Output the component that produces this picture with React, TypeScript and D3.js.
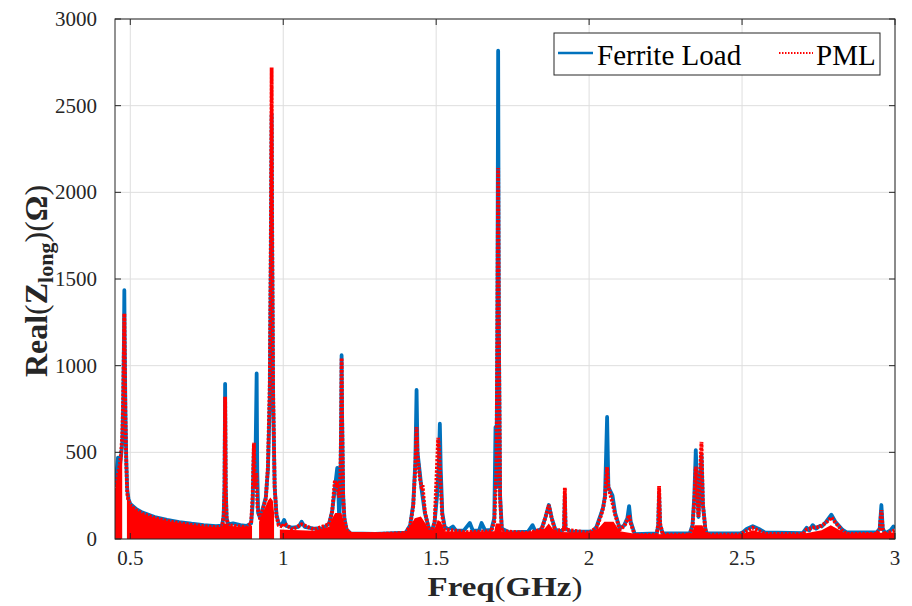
import React from "react";
import * as d3 from "d3";

// ---------- data ----------
const xTicks = [0.5, 1, 1.5, 2, 2.5, 3];
const yTicks = [0, 500, 1000, 1500, 2000, 2500, 3000];
const seriesNames = ["Ferrite Load", "PML"];

// Ferrite Load: [freq GHz, Real(Z) Ohm]
const ferrite: [number, number][] = [
  [0.450, 300], [0.455, 380], [0.4598, 470], [0.462, 380], [0.466, 420], [0.470, 480], [0.474, 560],
  [0.477, 800], [0.4795, 1200], [0.4805, 1435], [0.4815, 1200], [0.484, 750], [0.487, 450], [0.490, 285],
  [0.494, 232], [0.50, 203], [0.52, 172], [0.54, 152], [0.58, 127], [0.62, 110], [0.66, 98], [0.70, 88],
  [0.74, 80], [0.78, 74], [0.80, 77], [0.805, 130], [0.808, 300], [0.8100, 895], [0.812, 300], [0.815, 120],
  [0.82, 85], [0.836, 90], [0.86, 80], [0.88, 76], [0.895, 90], [0.900, 200], [0.9042, 540], [0.908, 300],
  [0.9131, 955], [0.915, 400], [0.918, 150], [0.925, 120], [0.932, 170], [0.937, 200], [0.943, 240],
  [0.950, 400], [0.956, 800], [0.960, 1700], [0.9621, 2450], [0.9635, 1700], [0.967, 800], [0.972, 300],
  [0.978, 140], [0.985, 90], [0.995, 80], [1.003, 110], [1.01, 75], [1.03, 65], [1.05, 70], [1.060, 100],
  [1.07, 70], [1.10, 60], [1.13, 62], [1.15, 90], [1.16, 160], [1.168, 280], [1.1765, 410], [1.180, 300],
  [1.183, 100], [1.187, 300], [1.1895, 700], [1.1908, 1060], [1.1925, 700], [1.196, 250], [1.200, 120],
  [1.207, 55], [1.22, 32], [1.30, 30], [1.40, 36], [1.415, 80], [1.425, 200], [1.432, 450], [1.4359, 860],
  [1.439, 500], [1.4467, 380], [1.452, 290], [1.463, 150], [1.475, 70], [1.485, 40], [1.495, 100],
  [1.503, 250], [1.509, 450], [1.512, 665], [1.515, 400], [1.52, 150], [1.528, 70], [1.54, 55],
  [1.5546, 72], [1.565, 48], [1.59, 48], [1.610, 92], [1.62, 48], [1.64, 48], [1.6484, 92], [1.66, 50],
  [1.68, 52], [1.69, 120], [1.694, 646], [1.697, 300], [1.700, 1200], [1.7026, 2817], [1.705, 1200],
  [1.709, 250], [1.7147, 60], [1.74, 38], [1.80, 42], [1.815, 80], [1.825, 42], [1.845, 60], [1.858, 130],
  [1.8683, 196], [1.878, 120], [1.89, 52], [1.91, 45], [1.918, 60], [1.9206, 250], [1.923, 60], [1.94, 42],
  [2.0, 42], [2.012, 45], [2.024, 70], [2.04, 150], [2.046, 185], [2.052, 250], [2.0588, 704], [2.063, 300],
  [2.0765, 250], [2.085, 150], [2.1003, 60], [2.115, 80], [2.125, 120], [2.1307, 190], [2.136, 100],
  [2.1493, 28], [2.2212, 32], [2.226, 80], [2.2288, 260], [2.232, 80], [2.2408, 32], [2.329, 32],
  [2.338, 80], [2.344, 250], [2.3487, 513], [2.3575, 127], [2.3673, 485], [2.372, 200], [2.38, 60],
  [2.3846, 32], [2.4925, 32], [2.5023, 38], [2.515, 58], [2.535, 74], [2.555, 58], [2.5742, 38],
  [2.6984, 34], [2.7114, 65], [2.72, 50], [2.731, 80], [2.742, 60], [2.7539, 75], [2.7605, 72], [2.775, 100],
  [2.792, 140], [2.805, 100], [2.829, 52], [2.842, 38], [2.94, 38], [2.950, 60], [2.9555, 196], [2.960, 60],
  [2.968, 32], [2.985, 50], [2.995, 72], [3.0, 62],
];

// PML: [freq GHz, Real(Z) Ohm]
const pml: [number, number][] = [
  [0.450, 280], [0.455, 330], [0.460, 380], [0.466, 430], [0.470, 500], [0.474, 600], [0.477, 850],
  [0.4795, 1150], [0.4805, 1300], [0.4815, 1100], [0.484, 700], [0.487, 430], [0.490, 262], [0.494, 222],
  [0.50, 196], [0.52, 166], [0.54, 146], [0.58, 121], [0.62, 104], [0.66, 92], [0.70, 82], [0.74, 74],
  [0.78, 68], [0.80, 72], [0.805, 125], [0.808, 280], [0.8100, 820], [0.812, 280], [0.815, 115], [0.82, 80],
  [0.86, 72], [0.88, 68], [0.895, 90], [0.900, 250], [0.9042, 555], [0.907, 300], [0.912, 380],
  [0.916, 180], [0.925, 110], [0.932, 160], [0.937, 195], [0.943, 230], [0.950, 420], [0.956, 900],
  [0.960, 1900], [0.9621, 2720], [0.9635, 1900], [0.967, 850], [0.972, 300], [0.978, 130], [0.985, 80],
  [1.0, 70], [1.003, 90], [1.03, 55], [1.060, 85], [1.10, 55], [1.15, 85], [1.16, 160], [1.169, 340],
  [1.174, 300], [1.1765, 330], [1.180, 260], [1.183, 240], [1.187, 380], [1.1895, 700], [1.1908, 1044],
  [1.1925, 700], [1.196, 240], [1.200, 110], [1.207, 55], [1.22, 30], [1.30, 28], [1.40, 35],
  [1.415, 75], [1.425, 190], [1.432, 420], [1.4359, 646], [1.439, 480], [1.4467, 350], [1.452, 300],
  [1.456, 300], [1.463, 160], [1.475, 60], [1.485, 35], [1.495, 100], [1.5065, 583], [1.510, 500],
  [1.515, 300], [1.52, 130], [1.528, 55], [1.60, 40], [1.68, 45], [1.69, 100], [1.697, 400], [1.700, 1200],
  [1.7026, 2140], [1.705, 1200], [1.709, 230], [1.7147, 45], [1.80, 35], [1.845, 55], [1.858, 130],
  [1.8683, 196], [1.878, 115], [1.89, 45], [1.918, 55], [1.9206, 295], [1.923, 55], [2.0, 35], [2.024, 65],
  [2.04, 140], [2.046, 180], [2.052, 240], [2.0588, 415], [2.063, 300], [2.0765, 207], [2.085, 140],
  [2.1003, 55], [2.115, 75], [2.125, 110], [2.1307, 138], [2.136, 90], [2.1493, 22], [2.2212, 25],
  [2.226, 90], [2.2288, 306], [2.232, 90], [2.2408, 25], [2.329, 25], [2.338, 70], [2.344, 220],
  [2.3487, 417], [2.3575, 127], [2.362, 350], [2.3673, 560], [2.372, 200], [2.38, 55], [2.3846, 25],
  [2.4925, 25], [2.535, 65], [2.5742, 30], [2.70, 28], [2.7114, 55], [2.731, 65], [2.7539, 70],
  [2.775, 95], [2.792, 125], [2.805, 95], [2.829, 45], [2.842, 30], [2.94, 30], [2.95, 55], [2.9555, 167],
  [2.96, 55], [2.968, 25], [2.985, 40], [3.0, 50],
];

// PML fast-oscillation envelope (top of the densely filled band), null = gap
const pmlBand: [number, number | null][] = [
  [0.450, 285], [0.455, 335], [0.460, 385], [0.466, 435], [0.471, 495], [0.4735, 515], [0.474, null],
  [0.4885, null], [0.489, 290], [0.494, 222], [0.50, 196], [0.52, 166], [0.54, 146], [0.58, 121],
  [0.62, 104], [0.66, 92], [0.70, 82], [0.74, 74], [0.78, 68], [0.80, 70], [0.806, 90], [0.814, 90], [0.82, 76],
  [0.86, 70], [0.898, 75], [0.899, null], [0.920, null], [0.921, 100], [0.932, 150], [0.943, 190],
  [0.950, 220], [0.958, 240], [0.966, 220], [0.970, 150], [0.971, null], [0.988, null], [0.989, 55],
  [1.10, 48], [1.15, 70], [1.16, 120], [1.17, 150], [1.19, 150], [1.198, 100], [1.207, 50], [1.22, 40],
  [1.40, 38], [1.42, 90], [1.43, 120], [1.45, 130], [1.465, 90], [1.48, 40], [1.495, 60], [1.505, 110],
  [1.515, 100], [1.528, 45], [1.60, 42], [1.69, 45], [1.695, 90], [1.71, 90], [1.715, 42], [1.80, 40],
  [1.855, 60], [1.868, 90], [1.88, 60], [1.90, 40], [2.0, 38], [2.03, 60], [2.05, 100], [2.08, 100],
  [2.10, 45], [2.15, 30], [2.22, 28], [2.335, 30], [2.345, 80], [2.37, 80], [2.385, 28], [2.50, 28],
  [2.535, 50], [2.58, 30], [2.70, 30], [2.76, 50], [2.79, 80], [2.83, 40], [2.84, 32], [3.0, 38],
];

// ---------- layout ----------
const W = 912;
const H = 606;
const M = { left: 115, right: 895, top: 19, bottom: 539 };
const BLUE = "#0072BD";
const RED = "#FF0000";
const AXIS = "#262626";
const GRID = "#DEDEDE";
const FONT = "'Liberation Serif', 'Times New Roman', serif";

export default function App() {
  const x = d3.scaleLinear().domain([0.45, 3]).range([M.left, M.right]);
  const y = d3.scaleLinear().domain([0, 3000]).range([M.bottom, M.top]);

  const line = d3
    .line<[number, number]>()
    .x((d) => x(d[0]))
    .y((d) => y(d[1]));
  const band = d3
    .area<[number, number | null]>()
    .defined((d) => d[1] !== null)
    .x((d) => x(d[0]))
    .y0(y(0))
    .y1((d) => y(d[1] as number));

  const tickLen = 6;

  return (
    <svg
      width={W}
      height={H}
      style={{ position: "absolute", left: 0, top: 0, background: "#fff" }}
      xmlns="http://www.w3.org/2000/svg"
    >
      <defs>
        <clipPath id="plotclip">
          <rect x={M.left} y={M.top} width={M.right - M.left} height={M.bottom - M.top} />
        </clipPath>
      </defs>
      <rect x={0} y={0} width={W} height={H} fill="#fff" />

      {/* grid */}
      <g stroke={GRID} strokeWidth={1}>
        {xTicks.map((t) => (
          <line key={"gx" + t} x1={x(t)} x2={x(t)} y1={M.top} y2={M.bottom} />
        ))}
        {yTicks.map((t) => (
          <line key={"gy" + t} x1={M.left} x2={M.right} y1={y(t)} y2={y(t)} />
        ))}
      </g>

      {/* data */}
      <g clipPath="url(#plotclip)">
        <path d={line(ferrite) || ""} fill="none" stroke={BLUE} strokeWidth={3.8} strokeLinejoin="round" />
        <path d={band(pmlBand) || ""} fill={RED} stroke="none" />
        <path
          d={line(pml) || ""}
          fill="none"
          stroke={RED}
          strokeWidth={3.8}
          strokeDasharray="2.4,1.4"
        />
      </g>

      {/* axes box */}
      <rect
        x={M.left}
        y={M.top}
        width={M.right - M.left}
        height={M.bottom - M.top}
        fill="none"
        stroke={AXIS}
        strokeWidth={1}
      />
      <g stroke={AXIS} strokeWidth={1}>
        {xTicks.map((t) => (
          <g key={"tx" + t}>
            <line x1={x(t)} x2={x(t)} y1={M.bottom} y2={M.bottom - tickLen} />
            <line x1={x(t)} x2={x(t)} y1={M.top} y2={M.top + tickLen} />
          </g>
        ))}
        {yTicks.map((t) => (
          <g key={"ty" + t}>
            <line x1={M.left} x2={M.left + tickLen} y1={y(t)} y2={y(t)} />
            <line x1={M.right} x2={M.right - tickLen} y1={y(t)} y2={y(t)} />
          </g>
        ))}
      </g>

      {/* tick labels */}
      <g fontFamily={FONT} fontSize={21} fill={AXIS}>
        {xTicks.map((t) => (
          <text key={"lx" + t} x={x(t)} y={565} textAnchor="middle">
            {String(t)}
          </text>
        ))}
        {yTicks.map((t) => (
          <text key={"ly" + t} x={97} y={y(t) + 7} textAnchor="end">
            {String(t)}
          </text>
        ))}
      </g>

      {/* axis labels */}
      <text
        x={505}
        y={596}
        textAnchor="middle"
        fontFamily={FONT}
        fontSize={28}
        fill={AXIS}
        textLength={155}
        lengthAdjust="spacingAndGlyphs"
      >
        <tspan fontWeight="bold">Freq</tspan>
        <tspan>(</tspan>
        <tspan fontWeight="bold">GHz</tspan>
        <tspan>)</tspan>
      </text>
      <text
        transform="translate(47,281) rotate(-90)"
        textAnchor="middle"
        fontFamily={FONT}
        fontSize={32}
        fill={AXIS}
      >
        <tspan fontWeight="bold">Real</tspan>
        <tspan>(</tspan>
        <tspan fontWeight="bold">Z</tspan>
        <tspan fontWeight="bold" fontSize={22} dy={6}>long</tspan>
        <tspan dy={-6}>)(</tspan>
        <tspan fontWeight="bold">Ω</tspan>
        <tspan>)</tspan>
      </text>

      {/* legend */}
      <g>
        <rect x={554} y={33} width={326} height={42} fill="#fff" stroke={AXIS} strokeWidth={1} />
        <line x1={558} x2={593} y1={53} y2={53} stroke={BLUE} strokeWidth={2.5} />
        <text x={597} y={65} fontFamily={FONT} fontSize={29} fill="#000">
          {seriesNames[0]}
        </text>
        <line x1={779} x2={813} y1={53} y2={53} stroke={RED} strokeWidth={2} strokeDasharray="1.5,1.5" />
        <text x={816} y={65} fontFamily={FONT} fontSize={29} fill="#000">
          {seriesNames[1]}
        </text>
      </g>
    </svg>
  );
}
